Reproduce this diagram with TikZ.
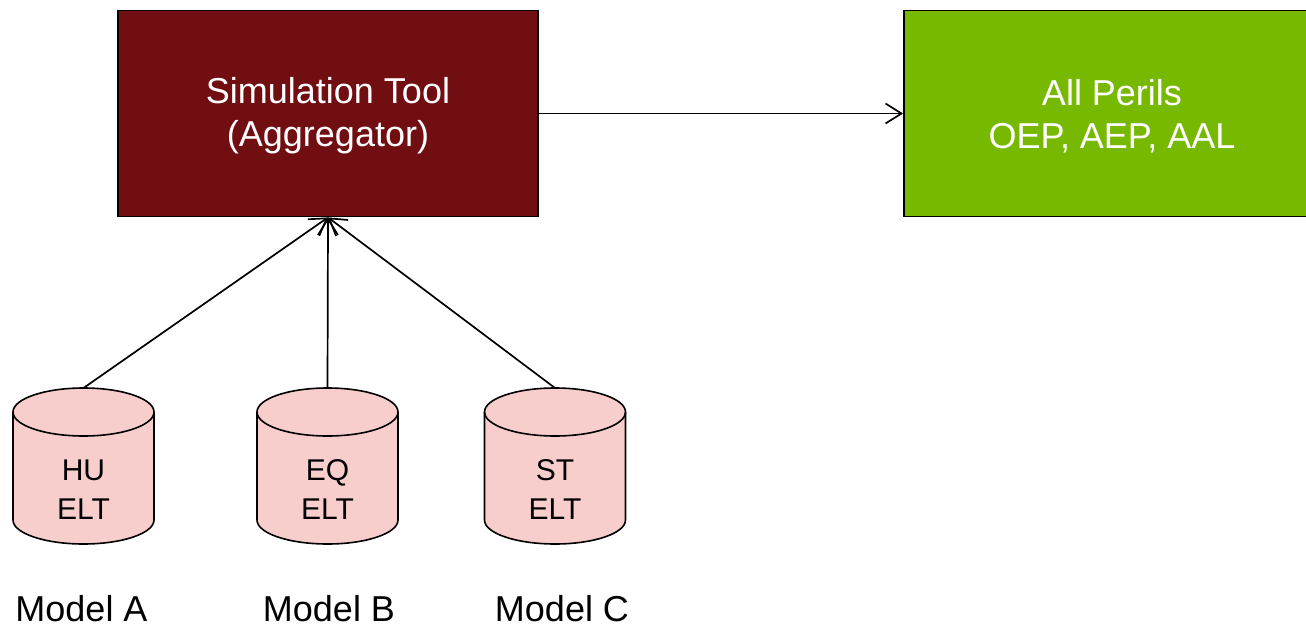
\documentclass[tikz,border=0pt]{standalone}
\usepackage{fontspec}
\setmainfont{Liberation Sans}
\usetikzlibrary{arrows.meta}
\definecolor{simred}{HTML}{710E12}
\definecolor{perilgreen}{HTML}{77B900}
\definecolor{cylpink}{HTML}{F8CECC}
\tikzset{
  bigbox/.style={draw=black, line width=1.8pt, minimum width=420pt, minimum height=206pt,
    align=center, text=white, font=\fontsize{36}{43}\selectfont, inner sep=0pt},
  conn/.style={draw=black, line width=1.7pt, -{Straight Barb[length=16pt,width=20pt,line width=1.7pt]}},
  cyltext/.style={align=center, font=\fontsize{30}{39}\selectfont, inner sep=0pt},
  modellabel/.style={anchor=base, font=\fontsize{36}{40}\selectfont, inner sep=0pt},
  db/.pic={
    \path[fill=cylpink, draw=black, line width=1.6pt]
      (-70.5,0) -- (-70.5,-108) arc[start angle=180, end angle=360, x radius=70.5, y radius=24]
      -- (70.5,0) arc[start angle=0, end angle=180, x radius=70.5, y radius=24] -- cycle;
    \draw[black, line width=1.6pt] (-70.5,0) arc[start angle=180, end angle=360, x radius=70.5, y radius=24];
    \coordinate (-top) at (0,24);
  }
}
\begin{document}
\begin{tikzpicture}[x=1pt, y=1pt]
  \path[use as bounding box, clip] (0,0) rectangle (1306,-626);
  \node[bigbox, fill=simred] (sim) at (328,-113.5) {};
  \node[bigbox, fill=perilgreen, minimum width=416pt] (perils) at (1112,-113.5) {};
  \node[bigbox, draw=none, minimum width=0pt, minimum height=0pt] (simtxt) at (328,-116) {Simulation Tool\\(Aggregator)};
  \node[bigbox, draw=none, minimum width=0pt, minimum height=0pt] (periltxt) at (1112,-116) {All Perils\\OEP, AEP, AAL};

  \pic (hu) at (83.5,-412) {db};
  \pic (eq) at (327.5,-412) {db};
  \pic (st) at (555,-412) {db};

  \node[cyltext] (hutxt) at (83.5,-490) {HU\\ELT};
  \node[cyltext] (eqtxt) at (327.5,-490) {EQ\\ELT};
  \node[cyltext] (sttxt) at (555,-490) {ST\\ELT};

  \node[modellabel] (ma) at (81.5,-621) {Model A};
  \node[modellabel] (mb) at (329,-621) {Model B};
  \node[modellabel] (mc) at (562,-621) {Model C};

  \draw[conn] (sim.east) -- (perils.west);
  \draw[conn] (hu-top) -- (sim.south);
  \draw[conn] (eq-top) -- (sim.south);
  \draw[conn] (st-top) -- (sim.south);
\end{tikzpicture}
\end{document}
